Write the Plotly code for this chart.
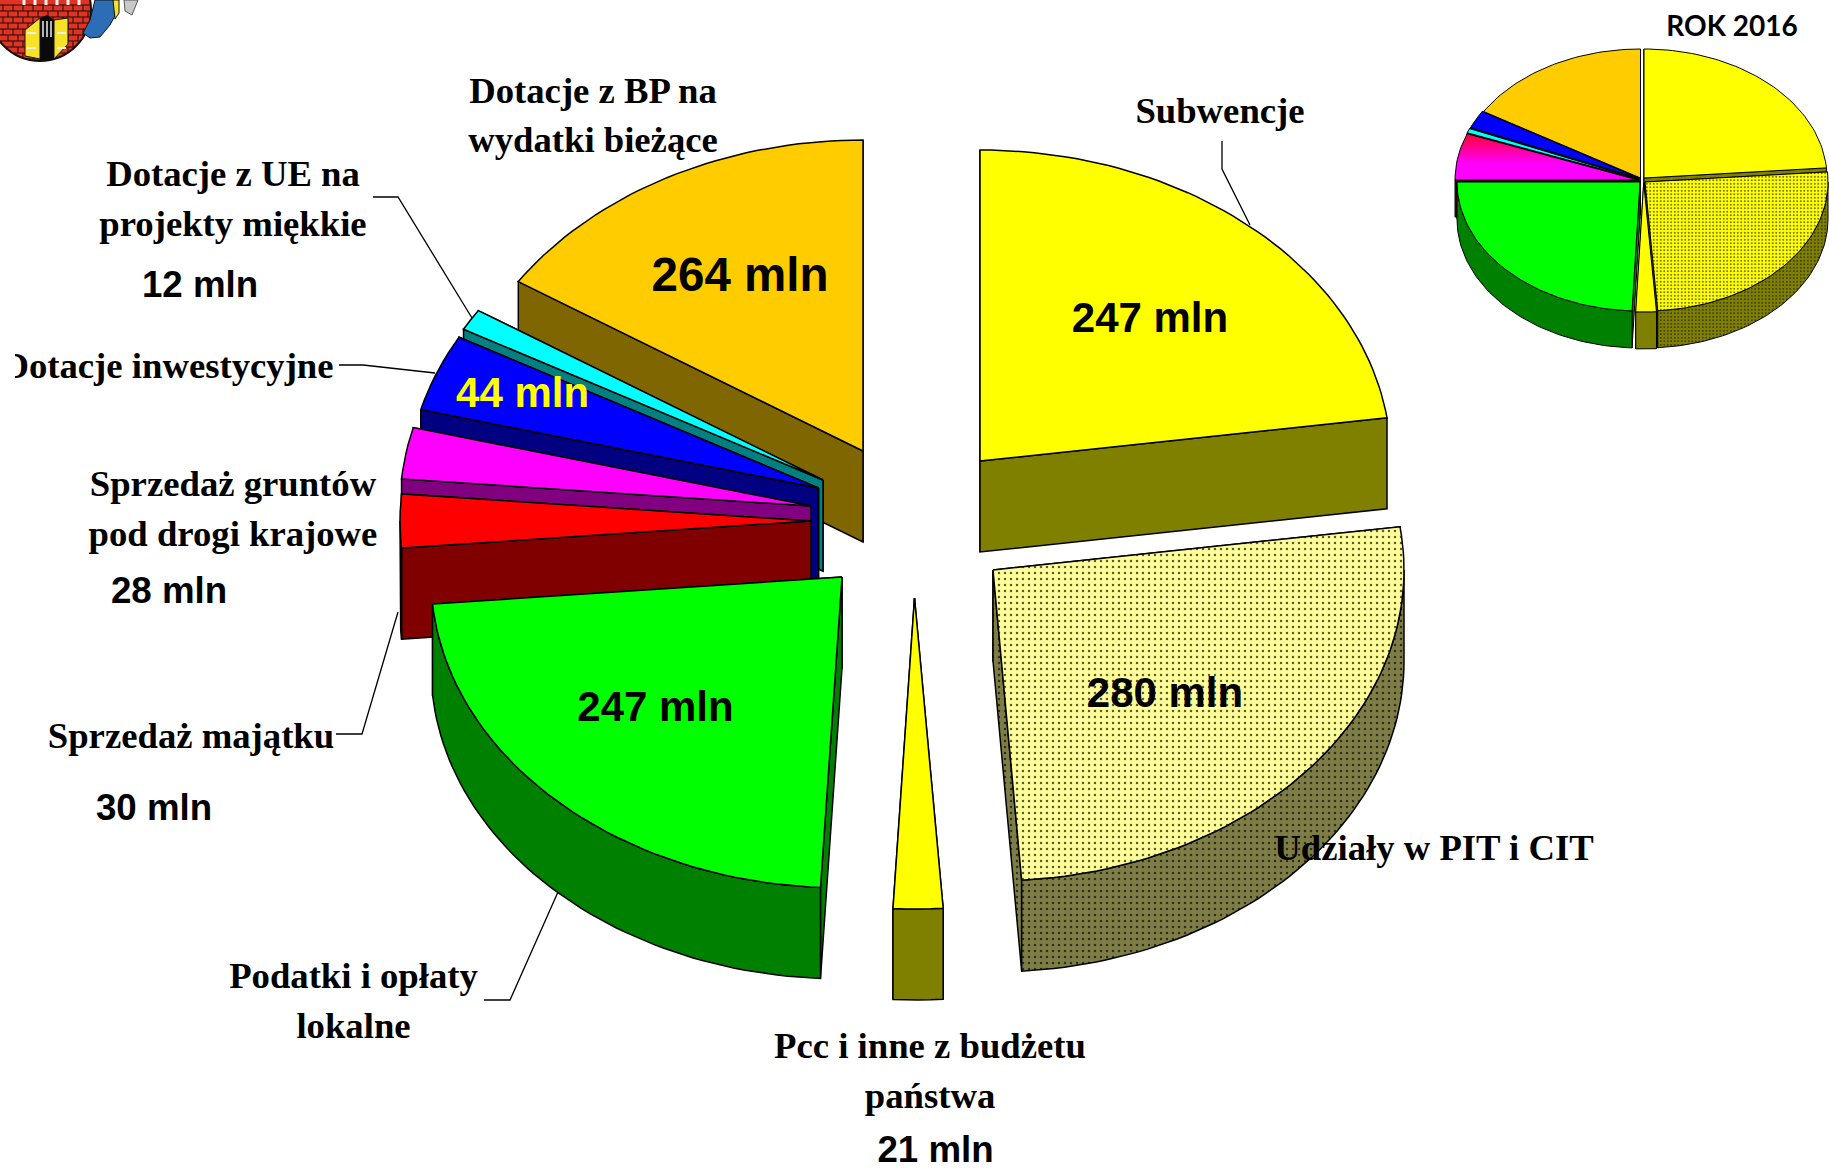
import math
import plotly.graph_objects as go

# ---------- data ----------
categories = ["Subwencje", "Udziały w PIT i CIT", "Pcc i inne z budżetu państwa",
              "Podatki i opłaty lokalne", "Sprzedaż majątku", "Sprzedaż gruntów pod drogi krajowe",
              "Dotacje inwestycyjne", "Dotacje z UE na projekty miękkie", "Dotacje z BP na wydatki bieżące"]
values_mln = [247, 280, 21, 247, 30, 28, 44, 12, 264]
# slice sizes as actually drawn (degrees of the ellipse, clockwise from top)
drawn_share = [82, 94, 7, 82, 10, 9.6, 14.4, 4, 57]

categories_2016 = ["Subwencje", "Udziały w PIT i CIT", "Pcc", "Podatki", "Sprzedaż",
                   "Dotacje UE", "Dotacje inwestycyjne", "Dotacje BP"]
drawn_share_2016 = [85.5, 90.5, 6.5, 87.5, 21, 2, 8, 59]

# ---------- layout / style ----------
W, H = 1829, 1168
top_colors = ["#FFFF00", "#FFFF99", "#FFFF00", "#00FF00", "#FF0000", "#FF00FF", "#0000FF", "#00FFFF", "#FFCC00"]
wall_colors = ["#808000", "#7D7D45", "#808000", "#008000", "#800000", "#800080", "#000080", "#008080", "#806600"]
apex_x = [980, 993, 914.5, 842, 811, 811, 818.5, 823, 863]
apex_y = [461, 570, 598, 577, 521, 506, 488, 480, 451]
paint_order = [8, 7, 6, 5, 4, 3, 0, 1, 2]
RX, RY, DEPTH = 411, 311, 91

top_colors_16 = ["#FFFF00", "#FFFF00", "#FFFF00", "#00FF00", "gradient", "#00FFFF", "#0000FF", "#FFCC00"]
wall_colors_16 = ["#808000", "#808000", "#808000", "#008000", "#800000", "#008080", "#000080", "#806600"]
apex_x_16 = [1644, 1645, 1643.7, 1640, 1638, 1638, 1639, 1640.5]
apex_y_16 = [178, 182, 183, 182, 180, 179, 178, 178]
paint_order_16 = [7, 6, 5, 4, 3, 0, 1, 2]
RX16, RY16, DEPTH16 = 183, 129, 37

serif_labels = ["Dotacje z BP na", "wydatki bieżące", "Subwencje", "Dotacje z UE na", "projekty miękkie",
                "Dotacje inwestycyjne", "Sprzedaż gruntów", "pod drogi krajowe", "Sprzedaż majątku",
                "Podatki i opłaty", "lokalne", "Pcc i inne z budżetu", "państwa", "Udziały w PIT i CIT"]
serif_x = [593, 593, 1220, 233, 233, 168, 233, 233, 191, 353.5, 353.5, 930, 930, 1434]
serif_y = [94, 143, 114, 177, 227, 369, 487, 537, 739, 979, 1029, 1049, 1099, 851]

small_labels = ["12 mln", "28 mln", "30 mln", "21 mln"]
small_x = [200, 169, 154, 935.5]
small_y = [287.5, 593.5, 810.5, 1153]
big_labels = ["264 mln", "247 mln", "280 mln", "247 mln", "44 mln"]
big_x = [740, 1150, 1165, 655.5, 522.6]
big_y = [279, 321, 696.5, 710.5, 396]
big_sizes = [47.5, 42, 42, 42, 42]
big_colors = ["black", "black", "black", "black", "#FFFF00"]

leaders = [
    ([1222, 1222, 1250], [141, 169, 225]),
    ([373, 398, 472], [197, 197, 318]),
    ([339, 363, 435], [365, 365, 373]),
    ([336, 362, 398], [734, 734, 612]),
    ([484, 510, 558], [1000, 1000, 892]),
]

fig = go.Figure()


def pt(ax, ay, rx, ry, deg, dz=0):
    t = math.radians(deg)
    return ax + rx * math.sin(t), ay - ry * math.cos(t) + dz


def arc(ax, ay, rx, ry, a, b, dz=0, step=1.5):
    n = max(2, int(abs(b - a) / step) + 1)
    pts = [pt(ax, ay, rx, ry, a + (b - a) * i / (n - 1), dz) for i in range(n)]
    return [p[0] for p in pts], [p[1] for p in pts]


def poly(xs, ys, fill, pattern=None, gradient=None, lw=1.5):
    kw = {}
    if pattern:
        kw["fillpattern"] = pattern
    if gradient:
        kw["fillgradient"] = gradient
    else:
        kw["fillcolor"] = fill
    fig.add_trace(go.Scatter(x=xs + xs[:1], y=ys + ys[:1], mode="lines", fill="toself",
                             line=dict(color="black", width=lw), hoverinfo="skip", **kw))


def wedge(ax, ay, rx, ry, dz, a, b, top, wall, top_pattern=None, wall_pattern=None, gradient=None, lw=1.5):
    # side walls, back one first so that the front one hides its lower edge
    for ang in sorted((a, b), key=lambda d: pt(ax, ay, rx, ry, d)[1]):
        ex, ey = pt(ax, ay, rx, ry, ang)
        poly([ax, ex, ex, ax], [ay, ey, ey + dz, ay + dz], wall, wall_pattern, lw=lw)
    lo, hi = max(a, 90), min(b, 270)
    if hi > lo:
        xt, yt = arc(ax, ay, rx, ry, lo, hi)
        xb, yb = arc(ax, ay, rx, ry, hi, lo, dz)
        poly(xt + xb, yt + yb, wall, wall_pattern, lw=lw)
    xa, ya = arc(ax, ay, rx, ry, a, b)
    poly([ax] + xa, [ay] + ya, top, top_pattern, gradient, lw=lw)


def bounds(shares):
    out, s = [], 0
    for v in shares:
        out.append((s, s + v))
        s += v
    return out


# main pie
b_main = bounds(drawn_share)
for i in paint_order:
    a, b = b_main[i]
    tp = wp = None
    if i == 1:
        tp = dict(shape=".", size=6, solidity=0.14, bgcolor="#FFFF99", fgcolor="#5A5A30", fillmode="replace")
        wp = dict(shape=".", size=6, solidity=0.14, bgcolor="#7D7D45", fgcolor="#2E2E20", fillmode="replace")
    wedge(apex_x[i], apex_y[i], RX, RY, DEPTH, a, b, top_colors[i], wall_colors[i], tp, wp)

# inset pie
b_16 = bounds(drawn_share_2016)
for i in paint_order_16:
    a, b = b_16[i]
    tp = wp = grad = None
    if i == 1:
        tp = dict(shape=".", size=3.5, solidity=0.22, bgcolor="#FFFF00", fgcolor="#55551A", fillmode="replace")
        wp = dict(shape=".", size=3.5, solidity=0.22, bgcolor="#808000", fgcolor="#33330A", fillmode="replace")
    if top_colors_16[i] == "gradient":
        grad = dict(type="vertical", colorscale=[[0, "#FF00FF"], [0.35, "#FF00FF"], [1, "#FF0033"]])
    wedge(apex_x_16[i], apex_y_16[i], RX16, RY16, DEPTH16, a, b,
          "#FF00FF" if grad else top_colors_16[i], wall_colors_16[i], tp, wp, grad, lw=1)

# leader lines
for lx, ly in leaders:
    fig.add_trace(go.Scatter(x=lx, y=ly, mode="lines", line=dict(color="black", width=1.3), hoverinfo="skip"))

# texts
fig.add_trace(go.Scatter(x=serif_x, y=serif_y, text=serif_labels, mode="text", cliponaxis=False,
                         textposition="middle center", hoverinfo="skip",
                         textfont=dict(family="Liberation Serif", size=36.7, color="black", weight="bold")))
fig.add_trace(go.Scatter(x=small_x, y=small_y, text=small_labels, mode="text", cliponaxis=False,
                         textposition="middle center", hoverinfo="skip",
                         textfont=dict(family="Liberation Sans", size=36.7, color="black", weight="bold")))
fig.add_trace(go.Scatter(x=big_x, y=big_y, text=big_labels, mode="text", cliponaxis=False,
                         textposition="middle center", hoverinfo="skip",
                         textfont=dict(family="Liberation Sans", size=big_sizes, color=big_colors, weight="bold")))
fig.add_trace(go.Scatter(x=[1732], y=[29], text=["ROK 2016"], mode="text", cliponaxis=False,
                         textposition="middle center", hoverinfo="skip",
                         textfont=dict(family="Lato", size=28, color="black", weight="bold")))

# ---------- decorative coat of arms and the left mask ----------
shapes = [dict(type="rect", xref="x", yref="y", x0=0, x1=15, y0=340, y1=395, fillcolor="white",
               line_width=0, layer="above")]


def deco(path, fill, line="rgba(0,0,0,0)", w=0):
    shapes.append(dict(type="path", path=path, xref="x", yref="y", fillcolor=fill, layer="above",
                       line=dict(color=line, width=w)))


def seg(x0, y0, x1, y1, color="#111111", w=1):
    shapes.append(dict(type="line", x0=x0, y0=y0, x1=x1, y1=y1, xref="x", yref="y", layer="above",
                       line=dict(color=color, width=w)))


cx, cy, r = 40, 10, 51
shapes.append(dict(type="circle", x0=cx - r, x1=cx + r, y0=cy - r, y1=cy + r, xref="x", yref="y",
                   fillcolor="#E23222", line=dict(color="#111111", width=2), layer="above"))
for k, yy in enumerate(range(5, 60, 6)):
    half = math.sqrt(max(r * r - (yy - cy) ** 2, 0)) - 1
    seg(max(cx - half, 0), yy, cx + half, yy)
    for xx in range(3 + 5 * (k % 2), 90, 10):
        if (xx - cx) ** 2 + (yy + 3 - cy) ** 2 < (r - 1) ** 2:
            seg(xx, yy, xx, yy + 6)
for xx in range(24, 90, 11):
    seg(xx, 0, xx, 5, "#F0F0F0", 3)
deco("M 40 18 L 47 15 L 54 20 L 54 60 L 40 60 Z", "#0A0A0A")
deco("M 25 30 L 40 18 L 40 59 L 25 56 Z", "#F7E22A", "#111111", 1)
deco("M 54 20 L 68 18 L 68 44 L 54 59 Z", "#F7E22A", "#111111", 1)
for yy in (33, 48):
    seg(27, yy, 36, yy, "#EEEEEE", 2)
    seg(57, yy, 66, yy, "#EEEEEE", 2)
for xx in (43, 47, 51):
    seg(xx, 21, xx, 37, "#EEEEEE", 1.5)
deco("M 95 0 L 115 0 L 117 12 L 110 25 L 100 37 L 90 38 L 83 33 L 90 20 Z", "#2D6DB5", "#111111", 1)
deco("M 113 0 L 119 0 L 119 13 L 115 19 Z", "#F7E22A", "#111111", 1)
deco("M 124 0 L 138 0 L 132 15 L 125 11 Z", "#C8C8C8", "#555555", 1)

fig.update_layout(
    width=W, height=H, showlegend=False, paper_bgcolor="white", plot_bgcolor="white",
    margin=dict(l=0, r=0, t=0, b=0), shapes=shapes,
    xaxis=dict(range=[0, W], visible=False, fixedrange=True),
    yaxis=dict(range=[H, 0], visible=False, fixedrange=True),
)
fig.write_html("out.html", config={"displayModeBar": False},
               post_script="document.body.style.margin='0';document.documentElement.style.overflow='hidden';")
